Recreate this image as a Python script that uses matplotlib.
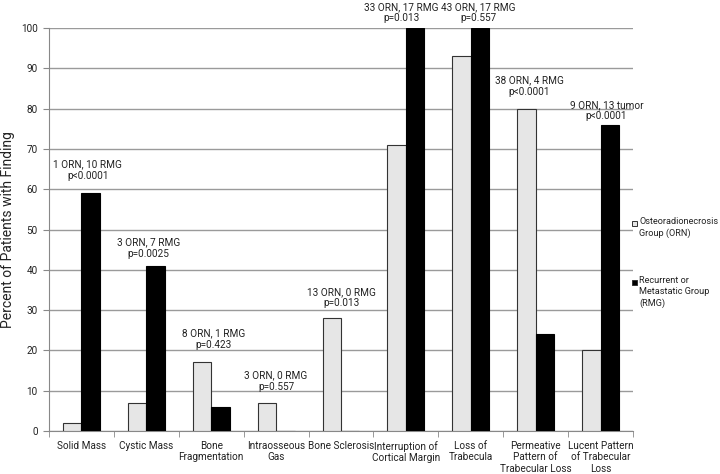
import matplotlib
matplotlib.use("Agg")
import matplotlib.pyplot as plt
from matplotlib.patches import Rectangle
import numpy as np

categories = ["Solid Mass", "Cystic Mass", "Bone\nFragmentation", "Intraosseous\nGas",
              "Bone Sclerosis", "Interruption of\nCortical Margin", "Loss of\nTrabecula",
              "Permeative\nPattern of\nTrabecular Loss", "Lucent Pattern\nof Trabecular\nLoss"]
orn = [2, 7, 17, 7, 28, 71, 93, 80, 20]
rmg = [59, 41, 6, 0, 0, 100, 100, 24, 76]
notes = ["1 ORN, 10 RMG\np<0.0001", "3 ORN, 7 RMG\np=0.0025", "8 ORN, 1 RMG\np=0.423",
         "3 ORN, 0 RMG\np=0.557", "13 ORN, 0 RMG\np=0.013", "33 ORN, 17 RMG\np=0.013",
         "43 ORN, 17 RMG\np=0.557", "38 ORN, 4 RMG\np<0.0001", "9 ORN, 13 tumor\np<0.0001"]
# hand placement of the notes in the original (data units: x shift, centre y)
note_dx = [0.1, 0.03, 0.03, 0.0, 0.0, -0.07, 0.12, -0.1, 0.09]
note_y = [64.8, 45.4, 22.8, 12.4, 33.1, 103.8, 103.8, 85.6, 79.5]
legend_labels = ["Osteoradionecrosis\nGroup (ORN)", "Recurrent or\nMetastatic Group\n(RMG)"]

plt.rcParams["font.family"] = ["Roboto", "DejaVu Sans"]
FS, YFS, LFS = 7.2, 10, 6.6
TXT = "#222222"
fig = plt.figure(figsize=(7.2, 4.74), dpi=100)
ax = fig.add_axes([49 / 720, 1 - 431 / 474, (633 - 49) / 720, (431 - 28) / 474])

x = np.arange(len(categories))
w = 0.285
colors = ["#e6e6e6", "black"]
ax.bar(x - w / 2, orn, w, color=colors[0], edgecolor="#333333", linewidth=0.8, zorder=3)
ax.bar(x + w / 2, rmg, w, color=colors[1], edgecolor="black", linewidth=0.8, zorder=3)

for i, note in enumerate(notes):
    ax.text(x[i] + note_dx[i], note_y[i], note, ha="center", va="center", fontsize=FS,
            color=TXT, linespacing=1.2, clip_on=False)

ax.set_xlim(-0.5, len(categories) - 0.5)
ax.set_ylim(0, 100)
ax.set_yticks(range(0, 101, 10))
ax.yaxis.grid(True, color="#9a9a9a", linewidth=1.0, zorder=0)
ax.set_axisbelow(True)
ax.set_xticks(x)
ax.set_xticklabels(categories, fontsize=FS, color=TXT, linespacing=1.2)
ax.set_xticks(np.arange(-0.5, len(categories), 1), minor=True)
ax.tick_params(axis="x", which="major", length=0, pad=7)
ax.tick_params(axis="x", which="minor", length=4, color="#888888", direction="out")
ax.tick_params(axis="y", length=4, color="#888888", labelsize=FS, labelcolor=TXT, pad=4)
for s in ["top", "right"]:
    ax.spines[s].set_visible(False)
for s in ["left", "bottom"]:
    ax.spines[s].set_color("#888888")
ax.set_ylabel("Percent of Patients with Finding", fontsize=YFS, color=TXT)
ax.yaxis.set_label_coords(-0.058, 0.5)

# legend drawn by hand so the square sits on the first text line
for lab, col, ytop in zip(legend_labels, colors, [217 / 474, 276 / 474]):
    fig.text(639 / 720, 1 - ytop, lab, ha="left", va="top", fontsize=LFS,
             color=TXT, linespacing=1.3)
    fig.add_artist(Rectangle((632 / 720, 1 - ytop - 9 / 474), 5 / 720, 5 / 474,
                             transform=fig.transFigure, facecolor=col,
                             edgecolor="#333333", linewidth=0.7))

fig.savefig("out.png", dpi=100)
